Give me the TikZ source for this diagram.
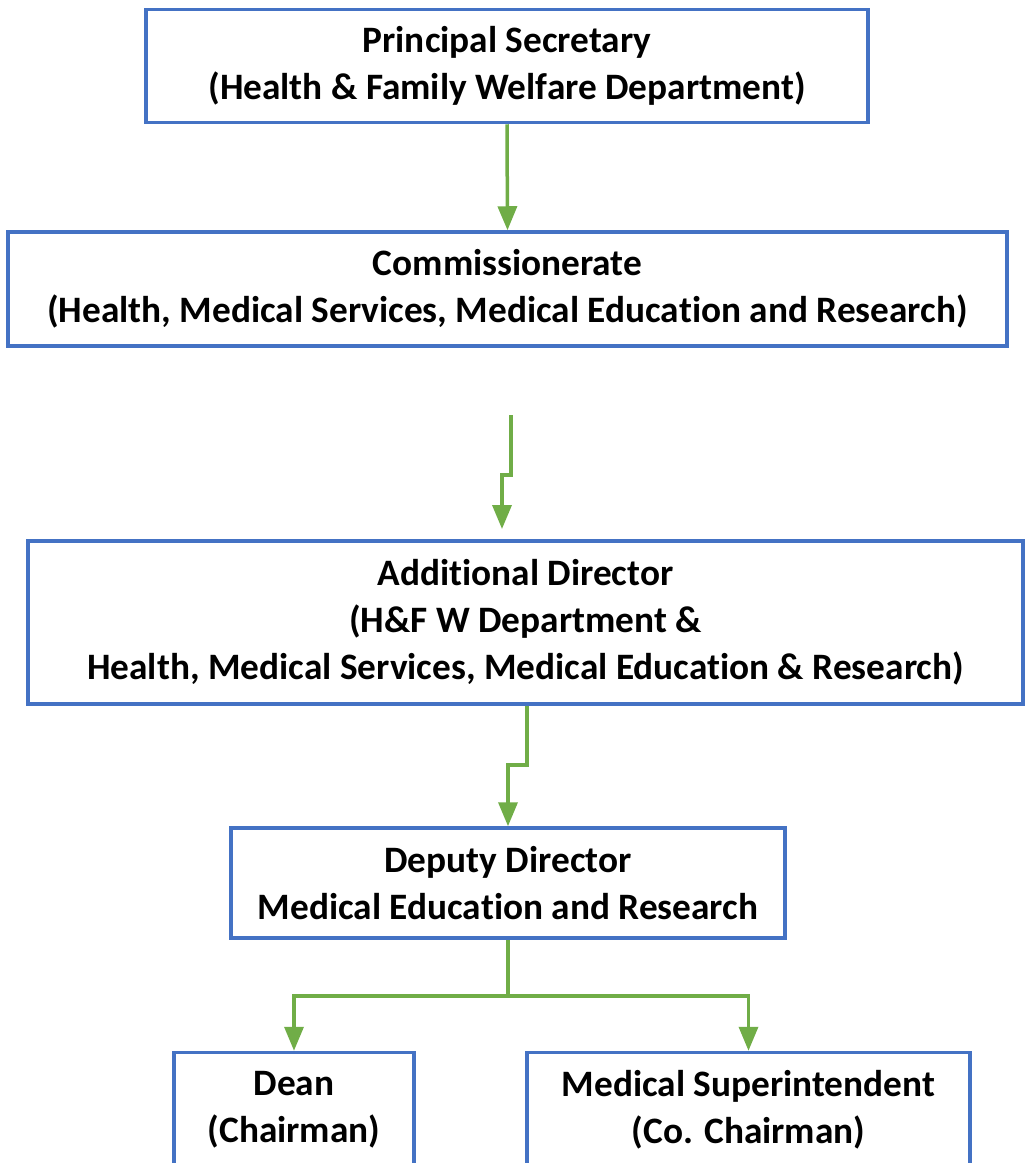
\documentclass[tikz,border=0pt]{standalone}
\usepackage{fontspec}
\setmainfont{Carlito}[Ligatures=NoCommon]
\usetikzlibrary{arrows.meta}

\definecolor{boxblue}{HTML}{4472C4}
\definecolor{linkgreen}{HTML}{70AD47}

\tikzset{
    post/.style={draw=boxblue,line width=3.5pt,align=center,inner sep=0pt,
        font=\fontsize{37.3}{47}\selectfont\bfseries},
    link/.style={draw=linkgreen,line width=3.5pt,
        -{Triangle[width=19pt,length=24pt]},color=linkgreen}
}

\begin{document}
\begin{tikzpicture}[x=1pt,y=-1pt]
        \useasboundingbox (0,0) rectangle (1025,1163);
        % offices
        \node[post,minimum width=722pt,minimum height=113pt] (ps) at (507,66)
            {Principal Secretary\\(Health \& Family Welfare Department)};
        \node[post,minimum width=999pt,minimum height=114pt] (com) at (507.5,289)
            {Commissionerate\\(Health, Medical Services, Medical Education and Research)};
        \node[post,minimum width=995pt,minimum height=163pt] (ad) at (525.5,622.5)
            {Additional Director\\(H\&F W Department \&\\Health, Medical Services, Medical Education \& Research)};
        \node[post,minimum width=554pt,minimum height=110pt] (dd) at (508,883)
            {Deputy Director\\Medical Education and Research};
        \node[post,minimum width=240pt,minimum height=115pt] (dean) at (294,1110)
            {Dean\\(Chairman)};
        \node[post,minimum width=443pt,minimum height=115pt] (ms) at (748.5,1110)
            {Medical Superintendent\\(Co. Chairman)};
        % links
        \draw[link] (ps.south) -- (com.north);
        \coordinate (gapstart) at (511,415);
        \coordinate (gapend) at (502,529);
        \draw[link] (gapstart) -- (511,475) -- (502,475) -- (gapend);
        \draw[link] (ad.south -| 527,0) -- (527,765) -- (508,765) -- (dd.north);
        \draw[link] (dd.south) -- (508,996) -| (dean.north);
        \draw[link] (dd.south) -- (508,996) -| (ms.north);
    \end{tikzpicture}
\end{document}
